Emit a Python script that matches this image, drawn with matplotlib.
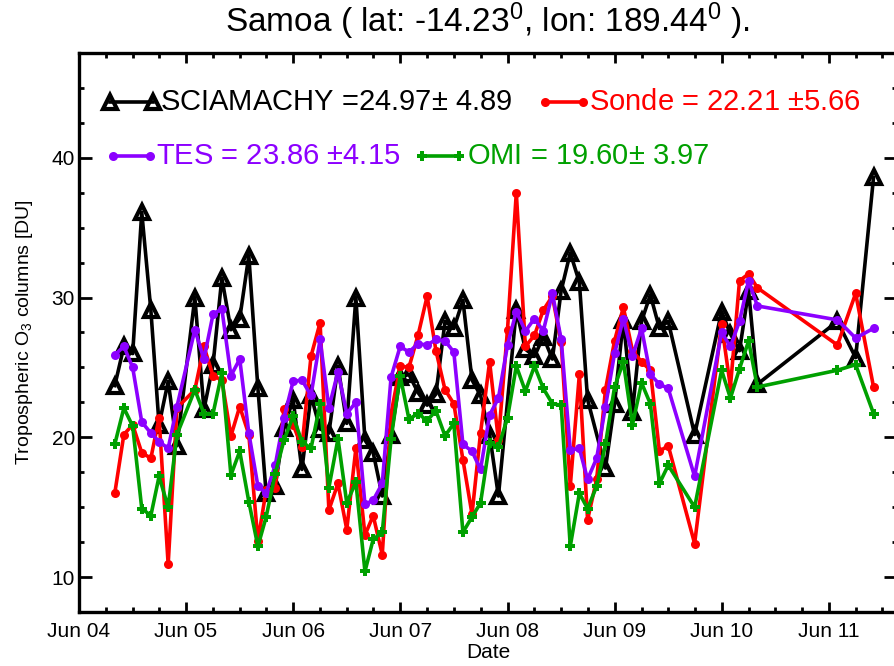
import numpy as np
import pandas as pd
import matplotlib
matplotlib.use('Agg')
import matplotlib.pyplot as plt
import matplotlib.dates as mdates
from matplotlib.ticker import MultipleLocator

FONT = ['Liberation Sans', 'DejaVu Sans']
plt.rcParams['font.family'] = FONT
plt.rcParams['mathtext.default'] = 'regular'

# monthly colocated means, Samoa
months = ['2004-10', '2004-11', '2004-12', '2005-01', '2005-02', '2005-03', '2005-04', '2005-05',
          '2005-07', '2005-08', '2005-09', '2005-10', '2005-11', '2005-12',
          '2006-01', '2006-02', '2006-03', '2006-04', '2006-05', '2006-06',
          '2006-07', '2006-08', '2006-09', '2006-10', '2006-11', '2006-12',
          '2007-01', '2007-02', '2007-03', '2007-04', '2007-05', '2007-06',
          '2007-07', '2007-08', '2007-09', '2007-10', '2007-11', '2007-12',
          '2008-01', '2008-02', '2008-03', '2008-04', '2008-05', '2008-06',
          '2008-07', '2008-08', '2008-09', '2008-10', '2008-11', '2008-12',
          '2009-01', '2009-02', '2009-03', '2009-04', '2009-05', '2009-06',
          '2009-07', '2009-08', '2009-09', '2009-10', '2009-11', '2009-12',
          '2010-03', '2010-06', '2010-07', '2010-08', '2010-09', '2010-10',
          '2011-07', '2011-09', '2011-11']

sciamachy = [23.7, 26.5, 26.0, 36.1, 29.1, 20.9, 24.0, 19.4,
             30.0, 22.0, 25.2, 31.4, 27.7, 28.5,
             33.0, 23.5, 16.0, 16.5, 20.7, 22.7, 17.7, 23.0, 20.6, 20.3, 25.1, 21.0,
             30.0, 19.8, 18.9, 15.8, 20.2, 24.3, 24.5, 23.2, 22.3, 23.1, 28.3, 27.8,
             29.8, 24.1, 23.0, 20.2, 15.8, np.nan, 29.1, 26.3, 25.8, 27.2, 25.6, 30.5,
             33.2, 31.1, 22.7, np.nan, 17.8, 22.4, 28.4, 21.8, 28.3, 30.2, 27.8, 28.3,
             20.2, 29.0, 27.4, 26.2, 30.5, 23.8,
             28.3, 25.7, 38.6]

sonde = [16.0, 20.2, 20.9, 18.9, 18.5, 21.4, 10.9, 22.1,
         23.4, 26.5, 24.4, 24.1, 20.1, 22.2,
         20.2, 12.6, 16.2, 16.4, 22.0, 20.9, 19.3, 25.8, 28.2, 14.8, 16.7, 13.4,
         19.2, 13.0, 14.4, 11.6, 21.7, 25.1, 25.0, 27.3, 30.1, 26.2, 23.4, 22.4,
         18.4, 14.5, 20.3, 25.4, 19.8, 27.7, 37.5, 26.5, 27.3, 29.1, 30.1, 26.8,
         16.5, 24.5, 14.1, 17.0, 23.4, 26.9, 29.3, 26.2, 25.4, 24.8, 19.0, 19.4,
         12.4, 28.1, 23.6, 31.2, 31.7, 30.7,
         26.6, 30.3, 23.6]

tes = [25.9, 26.5, 25.0, 21.1, 20.3, 19.7, 19.2, 22.2,
       27.7, 25.6, 28.8, 29.2, 24.4, 25.6,
       20.3, 16.5, 16.0, 18.0, 21.4, 24.0, 24.1, 23.0, 27.0, 22.1, 24.7, 21.7,
       22.5, 15.2, 15.5, 16.7, 24.3, 26.5, 26.1, 26.7, 26.6, 27.0, 26.9, 26.1,
       19.5, 19.0, 17.7, 21.6, 22.8, 26.6, 29.0, 27.6, 28.5, 27.6, 30.3, 27.0,
       19.1, 19.2, 17.0, 18.5, 22.2, 26.0, 28.5, 25.8, 27.8, 24.5, 23.8, 23.5,
       17.2, 27.5, 26.5, 28.3, 31.2, 29.4,
       28.4, 27.1, 27.8]

omi = [19.5, 22.1, 20.8, 14.9, 14.4, 17.2, 15.0, 20.2,
       23.4, 21.7, 21.7, 24.6, 17.3, 19.0,
       15.4, 12.2, 14.3, 17.4, 19.8, 21.5, 19.7, 19.2, 22.4, 16.4, 19.9, 15.3,
       16.8, 10.4, 12.7, 13.2, 19.9, 24.4, 21.3, 21.7, 21.2, 21.9, 20.1, 21.0,
       13.2, 14.3, 15.3, 19.6, 19.3, 21.4, 25.1, 23.3, 25.1, 23.5, 22.4, 22.3,
       12.2, 16.0, 14.9, 16.5, 19.5, 23.6, 25.4, 20.9, 23.9, 22.4, 16.7, 18.0,
       15.0, 24.8, 22.8, 24.9, 26.9, 23.6,
       24.8, 25.2, 21.7]

legend_text = ['SCIAMACHY =24.97$\\pm$ 4.89', 'Sonde = 22.21 $\\pm$5.66',
               'TES = 23.86 $\\pm$4.15', 'OMI = 19.60$\\pm$ 3.97']

BLACK, RED, PURPLE, GREEN = 'black', '#ff0000', '#8c00ff', '#00a000'
styles = [
    dict(color=BLACK, marker='^', ms=10, mfc='none', mew=3.0),
    dict(color=RED, marker='o', ms=6.5, mfc=RED, mew=0),
    dict(color=PURPLE, marker='o', ms=6.5, mfc=PURPLE, mew=0),
    dict(color=GREEN, marker='P', ms=7, mfc=GREEN, mew=0),
]

dates = pd.to_datetime(months)

fig = plt.figure(figsize=(8.94, 6.66), dpi=100)
ax = fig.add_axes([79 / 894, 1 - 612 / 666, (897 - 79) / 894, (612 - 53) / 666])

for vals, st in zip([sciamachy, sonde, tes, omi], styles):
    v = np.array(vals, dtype=float)
    ok = ~np.isnan(v)
    ax.plot(dates[ok], v[ok], lw=2.6, **st)

ax.set_xlim(pd.Timestamp('2004-06-01'), pd.Timestamp('2012-01-20'))
ax.set_ylim(7.5, 47.5)

ax.xaxis.set_major_locator(mdates.MonthLocator(bymonth=6))
ax.xaxis.set_minor_locator(mdates.MonthLocator(bymonth=[3, 9, 12]))
ax.xaxis.set_major_formatter(mdates.DateFormatter('%b %y'))
ax.yaxis.set_major_locator(MultipleLocator(10))
ax.yaxis.set_minor_locator(MultipleLocator(2.5))

ax.tick_params(which='both', direction='in', top=True, right=True, width=2.0, labelsize=15)
ax.tick_params(axis='x', which='major', length=7.5, pad=7)
ax.tick_params(axis='y', which='major', length=9.5, pad=3)
ax.tick_params(which='minor', length=3.8)
for sp in ax.spines.values():
    sp.set_linewidth(2.4)

ax.set_xlabel('Date', fontsize=15, labelpad=2)
ax.set_ylabel('Tropospheric O$_3$ columns [DU]', fontsize=14, labelpad=12)
fig.text(487 / 894, 1 - 21 / 666, 'Samoa ( lat: -14.23$^0$, lon: 189.44$^0$ ).',
         ha='center', va='center', fontsize=24)

# hand-placed legend: two rows, colored text
rows = [(0.913, [(0.038, 0.090, 0.099), (0.570, 0.616, 0.624)]),
        (0.815, [(0.042, 0.087, 0.094), (0.419, 0.464, 0.474)])]
slots = [rows[0][1][0], rows[0][1][1], rows[1][1][0], rows[1][1][1]]
ys = [rows[0][0], rows[0][0], rows[1][0], rows[1][0]]
for (x0, x1, xt), y, st, txt in zip(slots, ys, styles, legend_text):
    ax.plot([x0, x1], [y, y], transform=ax.transAxes, lw=2.6, clip_on=False, **st)
    ax.text(xt, y, txt, transform=ax.transAxes, color=st['color'], fontsize=21,
            ha='left', va='center')

fig.savefig('out.png', dpi=100)
